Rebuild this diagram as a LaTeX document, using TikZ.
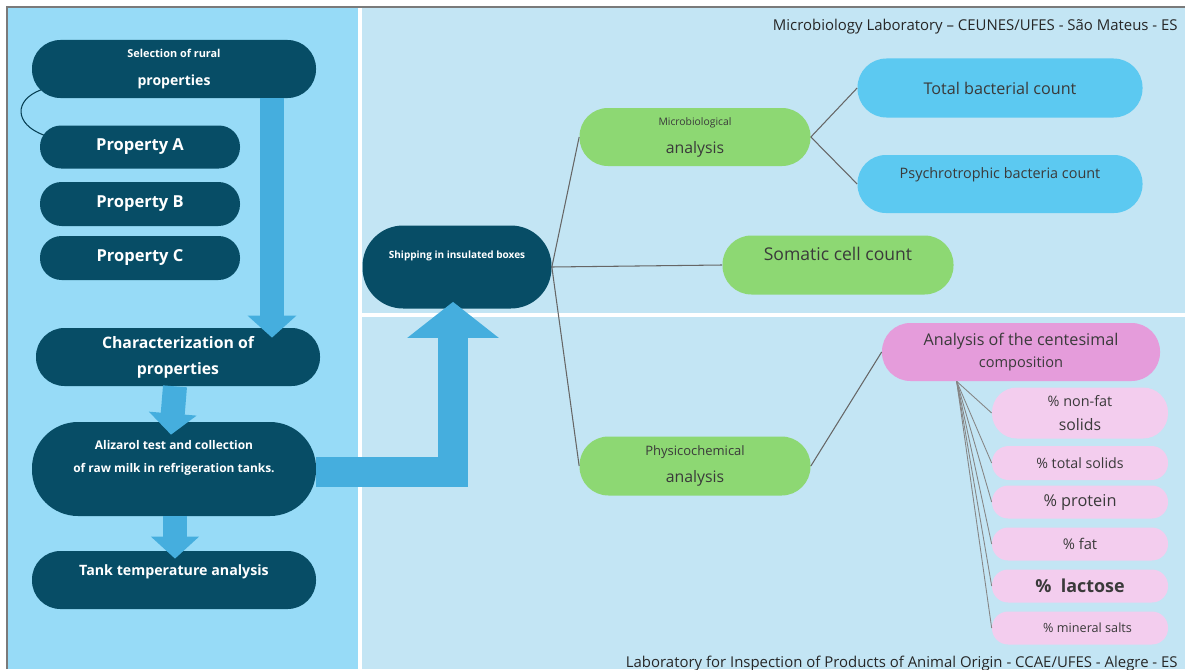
\documentclass[tikz,border=0pt]{standalone}
\usepackage{fontspec}
\setmainfont{Open Sans}
\usepackage{tikz}
\usetikzlibrary{positioning, calc, arrows.meta}
\usepackage{xcolor}

\definecolor{leftbg}{HTML}{97DBF7}
\definecolor{rightbg}{HTML}{C3E5F4}
\definecolor{darkteal}{HTML}{074D66}
\definecolor{arrowblue}{HTML}{45AEDE}
\definecolor{leafgreen}{HTML}{8DD873}
\definecolor{skyblue}{HTML}{5CC9F1}
\definecolor{pinkmain}{HTML}{E59CDB}
\definecolor{pinklight}{HTML}{F3CDEE}
\definecolor{labeltext}{HTML}{3A3A3A}
\definecolor{framegray}{HTML}{7A7A7A}
\definecolor{linegray}{HTML}{666666}

\newcommand{\pxl}{0.02cm}

\tikzset{
    pill/.style 2 args={rectangle, inner sep=0pt, align=center, minimum width=#1*\pxl, minimum height=#2*\pxl, rounded corners={#2*\pxl*0.49}},
    darkpill/.style 2 args={pill={#1}{#2}, fill=darkteal, text=white, font=\bfseries},
    greenpill/.style 2 args={pill={#1}{#2}, fill=leafgreen, text=labeltext},
    bluepill/.style 2 args={pill={#1}{#2}, fill=skyblue, text=labeltext},
    pinkpill/.style 2 args={pill={#1}{#2}, fill=pinkmain, text=labeltext},
    lightpill/.style={pill={176}{#1}, fill=pinklight, text=labeltext},
    lift/.style={text depth=#1},
    fatarrow/.style={draw=arrowblue, line width=24*\pxl, -{Triangle[width=27pt, length=12.5pt]}},
    link/.style={draw=linegray, line width=0.6pt},
    fan/.style={draw=linegray!80, line width=0.5pt},
}

\begin{document}
\begin{tikzpicture}[x=0.02cm, y=-0.02cm]
        \useasboundingbox (0,0) rectangle (1185,669);

        %panels
        \fill[leftbg] (8,8) rectangle (358,669);
        \fill[white] (358,8) rectangle (362,669);
        \fill[rightbg] (362,8) rectangle (1185,313);
        \fill[white] (362,313) rectangle (1185,317);
        \fill[rightbg] (362,317) rectangle (1185,669);
        \draw[framegray, line width=2*\pxl] (7,669) -- (7,7) -- (1185,7);

        %lab names
        \node[anchor=base east, inner sep=0pt, text=black!85, font=\fontsize{8.5}{10}\selectfont] (labtop) at (1178,31) {Microbiology Laboratory -- CEUNES/UFES - São Mateus - ES};
        \node[anchor=base east, inner sep=0pt, text=black!85, font=\fontsize{8.5}{10}\selectfont] (labbottom) at (1178,667) {Laboratory for Inspection of Products of Animal Origin - CCAE/UFES - Alegre - ES};

        %nodes - farm side
        \node[darkpill={284}{58}, font=\bfseries\fontsize{8}{14.2}\selectfont] (sel) at (174,69) {\fontsize{6.2}{14.2}\selectfont Selection of rural\\[1.2pt]\fontsize{8}{14.2}\selectfont properties};
        \node[darkpill={200}{43}, font=\bfseries\fontsize{9.4}{11}\selectfont] (propA) at (140,147) {Property A};
        \node[darkpill={200}{44}, font=\bfseries\fontsize{9.4}{11}\selectfont] (propB) at (140,204) {Property B};
        \node[darkpill={200}{44}, font=\bfseries\fontsize{9.4}{11}\selectfont] (propC) at (140,258) {Property C};
        \node[darkpill={284}{58}, font=\bfseries\fontsize{9}{14.7}\selectfont] (char) at (178,357) {Characterization of\\properties};
        \node[darkpill={284}{94}, font=\bfseries\fontsize{6.8}{13}\selectfont, lift=14pt] (aliz) at (174,469) {Alizarol test and collection\\of raw milk in refrigeration tanks.};
        \node[darkpill={284}{58}, font=\bfseries\fontsize{8.1}{10}\selectfont, lift=11.5pt] (tank) at (174,580) {Tank temperature analysis};

        %nodes - laboratories
        \node[darkpill={189}{83}, font=\bfseries\fontsize{5.7}{7}\selectfont, lift=13.5pt] (ship) at (457,267) {Shipping in insulated boxes};
        \node[greenpill={231}{58}, font=\fontsize{9}{13.6}\selectfont] (micro) at (695,137) {\fontsize{5.9}{13.6}\selectfont Microbiological\\[2.3pt]\fontsize{9}{13.6}\selectfont analysis};
        \node[greenpill={231}{59}, font=\fontsize{10}{12}\selectfont, lift=12.5pt] (somatic) at (838,265) {Somatic cell count};
        \node[greenpill={231}{59}, font=\fontsize{9}{13.6}\selectfont] (physico) at (695,466) {\fontsize{7.4}{13.6}\selectfont Physicochemical\\[1.7pt]\fontsize{9}{13.6}\selectfont analysis};
        \node[bluepill={285}{59}, font=\fontsize{9.2}{11}\selectfont] (total) at (1000,88) {Total bacterial count};
        \node[bluepill={285}{58}, font=\fontsize{8.2}{10}\selectfont, lift=12.5pt] (psychro) at (1000,184) {Psychrotrophic bacteria count};
        \node[pinkpill={278}{58}, font=\fontsize{8.3}{12.5}\selectfont] (cent) at (1021,352) {\fontsize{9.2}{12.5}\selectfont Analysis of the centesimal\\\fontsize{8.3}{12.5}\selectfont composition};

        \node[lightpill=51, font=\fontsize{9}{13.6}\selectfont] (nonfat) at (1080,413) {\fontsize{8.2}{13.6}\selectfont \% non-fat\\\fontsize{9}{13.6}\selectfont solids};
        \node[lightpill=34, font=\fontsize{8.1}{10}\selectfont] (solids) at (1080,463) {\% total solids};
        \node[lightpill=33, font=\fontsize{9.3}{11}\selectfont] (protein) at (1080,502) {\% protein};
        \node[lightpill=33, font=\fontsize{8.4}{10}\selectfont] (fat) at (1080,544) {\% fat};
        \node[lightpill=33, font=\bfseries\fontsize{10.2}{12}\selectfont] (lactose) at (1080,586) {\%~~lactose};
        \node[lightpill=33, font=\fontsize{7.2}{9}\selectfont] (salts) at (1080,628) {\hspace*{1.2em}\% mineral salts};

        %edges
        \draw[darkteal!80!black, line width=0.6pt] ($(sel.west)+(9,21)$) .. controls (14,100) and (14,124) .. ($(propA.west)+(4,-12)$);

        \draw[link] (ship.east) -- (micro.west);
        \draw[link] (ship.east) -- (somatic.west);
        \draw[link] (ship.east) -- (physico.west);
        \draw[link] (micro.east) -- (total.west);
        \draw[link] (micro.east) -- (psychro.west);
        \draw[link] (physico.east) -- (cent.west);

        \coordinate (hub) at ($(cent.south west)+(75,0)$);
        \foreach \leaf in {nonfat, solids, protein, fat, lactose, salts}
            \draw[fan] (hub) -- (\leaf.west);

        %flow arrows
        \draw[fatarrow] ($(sel.south)+(98,0)$) -- ($(char.north)+(94,10)$);
        \draw[fatarrow, -{Triangle[width=26.6pt, length=12pt]}] ($(char.south)+(-3,0)$) -- ($(aliz.north)+(-3,13)$);
        \draw[fatarrow, -{Triangle[width=26.6pt, length=12.5pt]}] ($(aliz.south)+(1,0)$) -- ($(tank.north)+(1,8)$);
        \draw[fatarrow, line width=30*\pxl, -{Triangle[width=51pt, length=20.5pt]}] ($(aliz.east)+(0,3)$) -| ($(ship.south)+(-4,-7)$);
    \end{tikzpicture}
\end{document}
